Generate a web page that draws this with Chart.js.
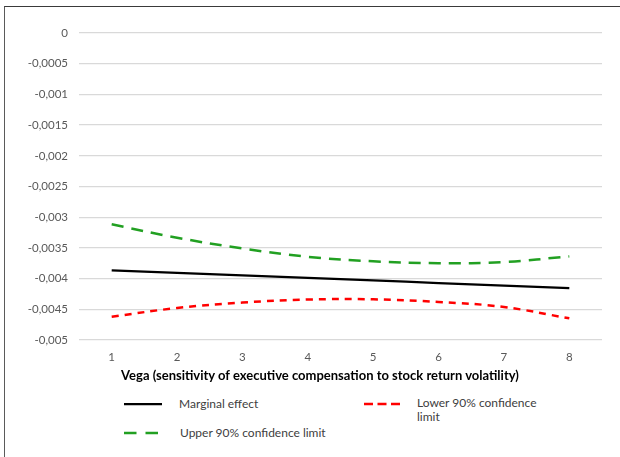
<!DOCTYPE html>
<html>
<head>
<meta charset="utf-8">
<script src="https://cdn.jsdelivr.net/npm/chart.js@4.4.1/dist/chart.umd.min.js"></script>
<style>
  html, body { margin: 0; padding: 0; background: #fff; }
  #wrap { position: relative; width: 620px; height: 457px; overflow: hidden; background: #fff; font-family: Lato, "Open Sans", sans-serif; }
  #frame { position: absolute; left: 4px; top: 6px; width: 700px; height: 500px; border-left: 1.5px solid #5a5a5a; border-top: 1.5px solid #3a3a3a; }
  #cv { position: absolute; left: 0; top: 0; }
  #xtitle { position: absolute; left: 0; width: 640px; top: 367px; text-align: center; font-size: 13px; font-weight: bold; color: #000; line-height: 16px; white-space: nowrap; }
  .leg { position: absolute; font-size: 12px; color: #404040; line-height: 14px; white-space: nowrap; }
  .sw { position: absolute; }
</style>
</head>
<body>
<div id="wrap">
  <div id="frame"></div>
  <canvas id="cv" width="620" height="395"></canvas>
  <div id="xtitle"></div>
  <svg class="sw" style="left:124px; top:398px" width="40" height="12"><line x1="0" y1="6" x2="38" y2="6" stroke="#000000" stroke-width="2.25"/></svg>
  <div class="leg" style="left:179px; top:397px">Marginal effect</div>
  <svg class="sw" style="left:364px; top:398px" width="40" height="12"><line x1="0" y1="6" x2="36" y2="6" stroke="#ff0000" stroke-width="2.5" stroke-dasharray="9 4.5"/></svg>
  <div class="leg" style="left:417px; top:396px">Lower 90% confidence<br>limit</div>
  <svg class="sw" style="left:124px; top:427px" width="40" height="12"><line x1="0" y1="6" x2="38" y2="6" stroke="#22a022" stroke-width="2.5" stroke-dasharray="12.5 9"/></svg>
  <div class="leg" style="left:180px; top:426px">Upper 90% confidence limit</div>
</div>
<script>
const categories = ['1', '2', '3', '4', '5', '6', '7', '8'];
const marginalEffect = [-0.003866, -0.003907, -0.003948, -0.003989, -0.004030, -0.004072, -0.004113, -0.004154];
const lowerLimit = [-0.004621, -0.004479, -0.004390, -0.004341, -0.004338, -0.004380, -0.004463, -0.004647];
const upperLimit = [-0.003116, -0.003334, -0.003508, -0.003645, -0.003718, -0.003748, -0.003730, -0.003638];
const yTickValues = [-0.005, -0.0045, -0.004, -0.0035, -0.003, -0.0025, -0.002, -0.0015, -0.001, -0.0005, 0];
const yTickLabels = ['-0,005', '-0,0045', '-0,004', '-0,0035', '-0,003', '-0,0025', '-0,002', '-0,0015', '-0,001', '-0,0005', '0'];
const xAxisTitle = 'Vega (sensitivity of executive compensation to stock return volatility)';

document.getElementById('xtitle').textContent = xAxisTitle;

const tickFont = { family: 'Lato, "Open Sans", sans-serif', size: 11.5 };

new Chart(document.getElementById('cv'), {
  type: 'line',
  data: {
    labels: categories,
    datasets: [
      { label: 'Marginal effect', data: marginalEffect, borderColor: '#000000', borderWidth: 2.25, pointRadius: 0, tension: 0.4, fill: false },
      { label: 'Lower 90% confidence limit', data: lowerLimit, borderColor: '#ff0000', borderWidth: 2.5, borderDash: [7, 6], pointRadius: 0, tension: 0.4, fill: false },
      { label: 'Upper 90% confidence limit', data: upperLimit, borderColor: '#22a022', borderWidth: 2.5, borderDash: [12, 8], pointRadius: 0, tension: 0.4, fill: false }
    ]
  },
  options: {
    responsive: false,
    animation: false,
    devicePixelRatio: 1,
    layout: { padding: { left: 0, top: 33, right: 18, bottom: 0 } },
    plugins: { legend: { display: false }, tooltip: { enabled: false } },
    scales: {
      x: {
        type: 'category',
        offset: true,
        grid: { display: false, drawTicks: false },
        border: { display: false },
        ticks: { color: '#595959', font: tickFont, padding: 10 },
        title: { display: false, text: xAxisTitle },
        afterFit(s) { s.height = 55; }
      },
      y: {
        min: -0.005,
        max: 0,
        grid: { color: '#d9d9d9', lineWidth: 1.3, drawTicks: false },
        border: { display: false },
        afterBuildTicks(s) { s.ticks = yTickValues.map(v => ({ value: v })); },
        ticks: { color: '#595959', font: tickFont, padding: 11, callback: (v, i) => yTickLabels[i] },
        afterFit(s) { s.width = 79; }
      }
    }
  }
});
</script>
</body>
</html>
